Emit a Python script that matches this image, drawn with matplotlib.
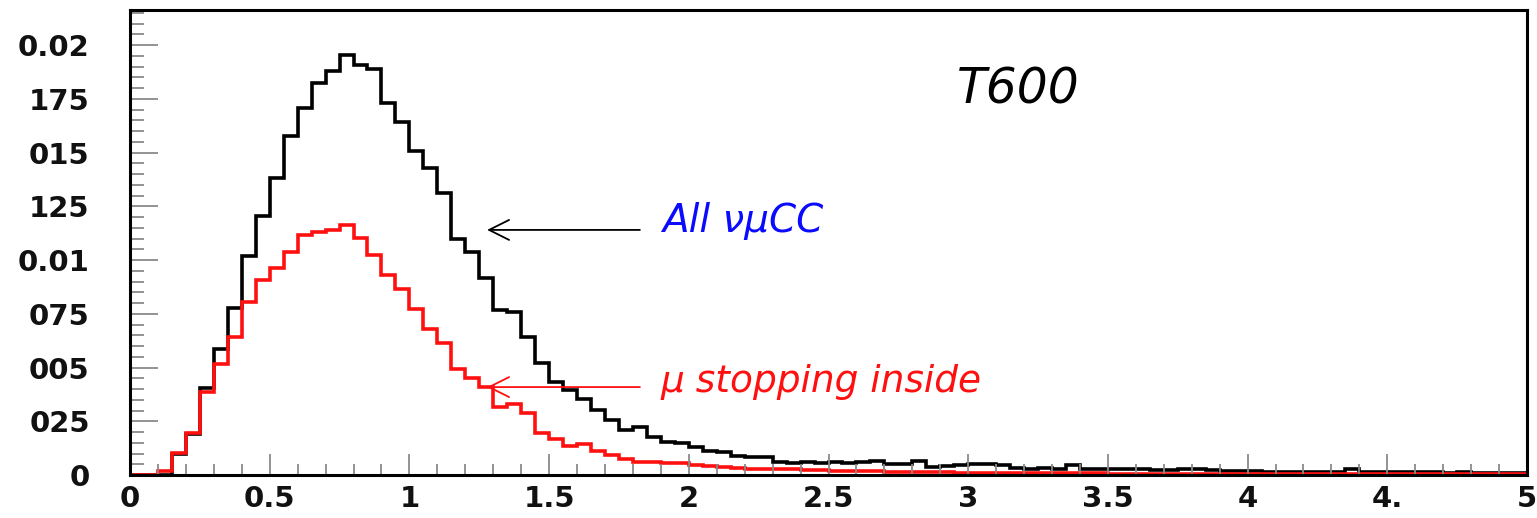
import matplotlib
matplotlib.use("Agg")
import matplotlib.pyplot as plt
from matplotlib.ticker import MultipleLocator, FixedLocator, FixedFormatter
import numpy as np

# ---- data (bin width 0.05 from 0 to 5) ----
bin_edges = [round(0.05 * i, 2) for i in range(101)]

all_numu_cc = [
    0.0, 0.0, 0.0, 0.00100, 0.00192, 0.00405, 0.00586, 0.00778, 0.01019, 0.01207,
    0.01380, 0.01577, 0.01705, 0.01822, 0.01880, 0.01953, 0.01906, 0.01887, 0.01729, 0.01642,
    0.01508, 0.01430, 0.01314, 0.01100, 0.01039, 0.00915, 0.00767, 0.00757, 0.00643, 0.00520,
    0.00434, 0.00395, 0.00352, 0.00302, 0.00256, 0.00209, 0.00222, 0.00175, 0.00152, 0.00148,
    0.00128, 0.00112, 0.00105, 0.00088, 0.00086, 0.00085, 0.00062, 0.00058, 0.00060, 0.00058,
    0.00060, 0.00055, 0.00060, 0.00066, 0.00050, 0.00052, 0.00066, 0.00036, 0.00040, 0.00047,
    0.00050, 0.00050, 0.00047, 0.00032, 0.00030, 0.00031, 0.00030, 0.00045, 0.00030, 0.00030,
    0.00028, 0.00030, 0.00027, 0.00025, 0.00022, 0.00030, 0.00030, 0.00022, 0.00020, 0.00020,
    0.00018, 0.00016, 0.00016, 0.00015, 0.00014, 0.00015, 0.00014, 0.00030, 0.00015, 0.00013,
    0.00012, 0.00012, 0.00014, 0.00012, 0.00010, 0.00016, 0.00011, 0.00010, 0.00010, 0.00009,
]

mu_stopping_inside = [
    0.0, 0.0, 0.00020, 0.00104, 0.00194, 0.00388, 0.00515, 0.00643, 0.00806, 0.00907,
    0.00961, 0.01039, 0.01116, 0.01132, 0.01140, 0.01163, 0.01101, 0.01023, 0.00930, 0.00864,
    0.00771, 0.00678, 0.00613, 0.00492, 0.00450, 0.00411, 0.00318, 0.00330, 0.00287, 0.00194,
    0.00166, 0.00135, 0.00144, 0.00113, 0.00093, 0.00073, 0.00062, 0.00060, 0.00056, 0.00054,
    0.00045, 0.00042, 0.00038, 0.00033, 0.00030, 0.00029, 0.00028, 0.00027, 0.00025, 0.00022,
    0.00020, 0.00020, 0.00018, 0.00017, 0.00016, 0.00015, 0.00013, 0.00013, 0.00012, 0.00011,
    0.00010, 0.00010, 0.00009, 0.00009, 0.00008, 0.00008, 0.00008, 0.00007, 0.00007, 0.00007,
    0.00006, 0.00006, 0.00006, 0.00006, 0.00006, 0.00006, 0.00005, 0.00005, 0.00005, 0.00005,
    0.00005, 0.00005, 0.00005, 0.00005, 0.00005, 0.00005, 0.00004, 0.00004, 0.00004, 0.00004,
    0.00004, 0.00004, 0.00004, 0.00004, 0.00004, 0.00004, 0.00004, 0.00004, 0.00004, 0.00004,
]

x_tick_values = [0, 0.5, 1, 1.5, 2, 2.5, 3, 3.5, 4, 4.5, 5]
x_tick_labels = ["0", "0.5", "1", "1.5", "2", "2.5", "3", "3.5", "4", "4.", "5"]
y_tick_values = [0, 0.0025, 0.005, 0.0075, 0.01, 0.0125, 0.015, 0.0175, 0.02]
y_tick_labels = ["0", "025", "005", "075", "0.01", "125", "015", "175", "0.02"]

# ---- figure ----
fig = plt.figure(figsize=(15.37, 5.18), dpi=100)
ax = fig.add_axes([130 / 1537, 1 - 475 / 518, (1527 - 130) / 1537, (475 - 10) / 518])

ax.stairs(all_numu_cc, bin_edges, color="black", linewidth=2.6)
ax.stairs(mu_stopping_inside, bin_edges, color="#ff1010", linewidth=2.6)

ax.set_xlim(0, 5)
ax.set_ylim(0, 0.02163)

for s in ax.spines.values():
    s.set_linewidth(2.2)
    s.set_color("black")

ax.xaxis.set_major_locator(FixedLocator(x_tick_values))
ax.xaxis.set_major_formatter(FixedFormatter(x_tick_labels))
ax.xaxis.set_minor_locator(MultipleLocator(0.1))
ax.yaxis.set_major_locator(FixedLocator(y_tick_values))
ax.yaxis.set_major_formatter(FixedFormatter(y_tick_labels))
ax.yaxis.set_minor_locator(MultipleLocator(0.0005))

ax.tick_params(axis="both", which="both", direction="in", color="#8a8a8a", width=1.3,
               top=False, right=False)
ax.tick_params(axis="x", which="major", length=15, pad=7)
ax.tick_params(axis="x", which="minor", length=8)
ax.tick_params(axis="y", which="major", length=20, pad=29)
ax.tick_params(axis="y", which="minor", length=10)

for lab in ax.get_xticklabels() + ax.get_yticklabels():
    lab.set_fontfamily("DejaVu Sans")
    lab.set_fontweight("bold")
    lab.set_fontsize(21)
    lab.set_color("#111111")

# ---- annotations ----
ax.text(2.96, 0.01726, "T600", fontsize=35, style="italic", color="black",
        family="DejaVu Sans", ha="left", va="baseline")
ax.text(1.904, 0.0113, "All \u03bd\u03bcCC", fontsize=28, style="italic", color="#0a0aff",
        family="DejaVu Sans", ha="left", va="baseline")
ax.text(1.897, 0.00386, "\u03bc stopping inside", fontsize=27, style="italic", color="#ff1010",
        family="DejaVu Sans", ha="left", va="baseline")

ax.annotate("", xy=(1.278, 0.0114), xytext=(1.825, 0.0114),
            arrowprops=dict(arrowstyle="->,head_length=0.72,head_width=0.36",
                            mutation_scale=20, color="black", lw=1.3,
                            shrinkA=0, shrinkB=0))
ax.annotate("", xy=(1.278, 0.00409), xytext=(1.825, 0.00409),
            arrowprops=dict(arrowstyle="->,head_length=0.72,head_width=0.36",
                            mutation_scale=20, color="#ff1010", lw=1.3,
                            shrinkA=0, shrinkB=0))

fig.savefig("out.png", dpi=100)
